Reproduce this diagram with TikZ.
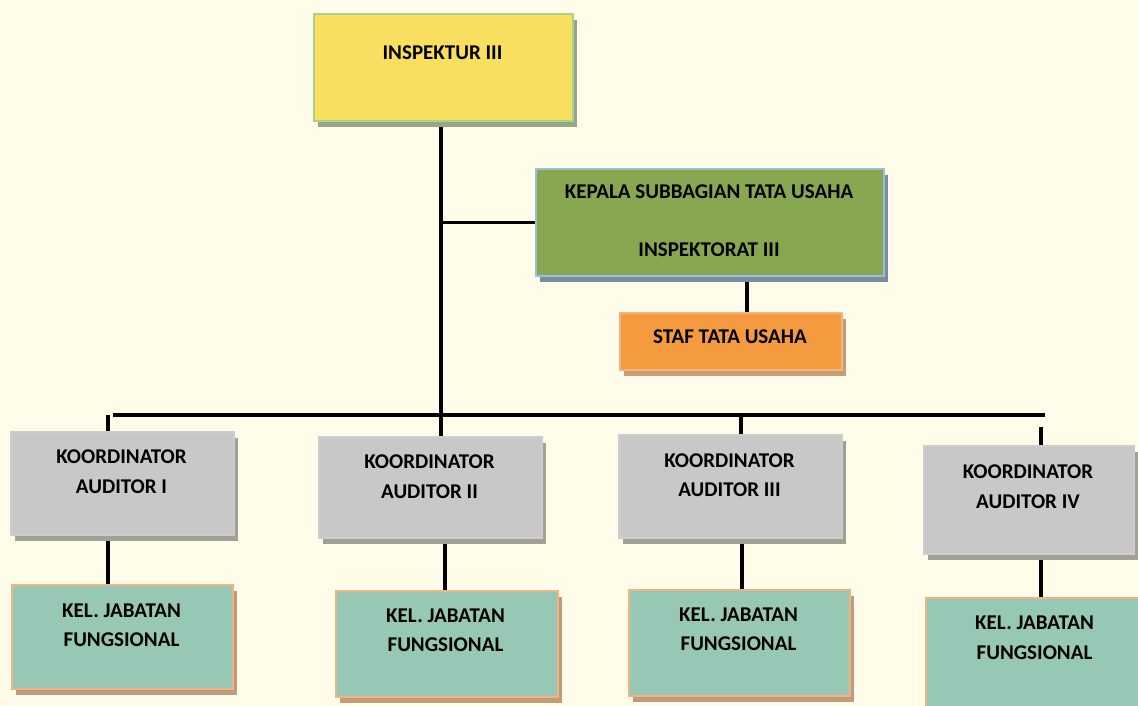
\documentclass[tikz,border=0pt]{standalone}
\usepackage{fontspec}
\setmainfont{Carlito}
\usetikzlibrary{shadows,calc}
\definecolor{bgc}{RGB}{255,252,233}
\definecolor{yfill}{RGB}{248,223,95}
\definecolor{ydraw}{RGB}{169,208,142}
\definecolor{yshad}{RGB}{152,166,132}
\definecolor{gfill}{RGB}{135,168,81}
\definecolor{gdraw}{RGB}{155,190,220}
\definecolor{gshad}{RGB}{122,140,160}
\definecolor{ofill}{RGB}{243,155,62}
\definecolor{odraw}{RGB}{245,178,130}
\definecolor{oshad}{RGB}{196,158,118}
\definecolor{kfill}{RGB}{200,200,200}
\definecolor{kdraw}{RGB}{205,205,205}
\definecolor{kshad}{RGB}{160,160,148}
\definecolor{tfill}{RGB}{151,200,181}
\definecolor{tdraw}{RGB}{244,177,131}
\definecolor{tshad}{RGB}{190,156,124}
\pgfdeclarelayer{background}
\pgfsetlayers{background,main}
\begin{document}
\begin{tikzpicture}[x=1pt,y=-1pt,
  box/.style={line width=2pt, inner sep=0pt, anchor=north west},
  sh/.style={drop shadow={shadow xshift=4pt, shadow yshift=-6pt, fill=#1, opacity=1}},
  ybox/.style={box, fill=yfill, draw=ydraw, sh=yshad},
  gbox/.style={box, fill=gfill, draw=gdraw, sh=gshad},
  obox/.style={box, fill=ofill, draw=odraw, sh=oshad},
  kbox/.style={box, fill=kfill, draw=kdraw, sh=kshad},
  tbox/.style={box, fill=tfill, draw=tdraw, sh=tshad},
  txt/.style={font=\fontsize{21}{29.5}\selectfont\bfseries, align=center, inner sep=0pt, anchor=north, text=black},
  conn/.style={line width=3.6pt, draw=black}
]
\useasboundingbox (0,0) rectangle (1138,706);
\begin{pgfonlayer}{background}
\fill[bgc] (0,0) rectangle (1138,706);
\end{pgfonlayer}

% boxes
\node[ybox, minimum width=259pt, minimum height=107pt] (insp) at (313,13) {};
\node[gbox, minimum width=348pt, minimum height=107pt] (kep) at (535,168) {};
\node[obox, minimum width=222pt, minimum height=57pt] (staf) at (619,312) {};
\node[kbox, minimum width=223pt, minimum height=103pt] (k1) at (10,431) {};
\node[kbox, minimum width=223pt, minimum height=101pt] (k2) at (318,436) {};
\node[kbox, minimum width=223pt, minimum height=103pt] (k3) at (618,434) {};
\node[kbox, minimum width=210pt, minimum height=108pt] (k4) at (923,445) {};
\node[tbox, minimum width=221pt, minimum height=104pt] (g1) at (11,584) {};
\node[tbox, minimum width=222pt, minimum height=106pt] (g2) at (335,590) {};
\node[tbox, minimum width=221pt, minimum height=106pt] (g3) at (628,589) {};
\node[tbox, minimum width=219pt, minimum height=115pt] (g4) at (925,597) {};

% texts
\node[txt] (tinsp) at (442.5,46) {INSPEKTUR III};
\node[txt] (tkep) at (709,185) {KEPALA SUBBAGIAN TATA USAHA\\[27.8pt]INSPEKTORAT III};
\node[txt] (tstaf) at (730,329.3) {STAF TATA USAHA};
\node[txt] (tk1) at (121.5,450) {KOORDINATOR\\AUDITOR I};
\node[txt] (tk2) at (429.5,455) {KOORDINATOR\\AUDITOR II};
\node[txt] (tk3) at (729.5,453.3) {KOORDINATOR\\AUDITOR III};
\node[txt] (tk4) at (1028,465) {KOORDINATOR\\AUDITOR IV};
\node[txt] (tg1) at (121.5,603.3) {KEL. JABATAN\\FUNGSIONAL};
\node[txt] (tg2) at (445.5,608.3) {KEL. JABATAN\\FUNGSIONAL};
\node[txt] (tg3) at (738.5,607.3) {KEL. JABATAN\\FUNGSIONAL};
\node[txt] (tg4) at (1034.5,616) {KEL. JABATAN\\FUNGSIONAL};

% connector coordinates
\coordinate (mx) at (441,0);
\coordinate (sx) at (747,0);
\coordinate (busL) at (113,415);
\coordinate (busR) at (1045,415);
\coordinate (x1) at (108,415);
\coordinate (x3) at (741,415);
\coordinate (x4) at (1041,427);
\coordinate (y2) at (445,0);
\coordinate (y3) at (742,0);

\begin{pgfonlayer}{background}
\draw[conn] (insp.south -| mx) -- (k2.north -| mx);
\draw[conn] (kep.west) -- (kep.west -| mx);
\draw[conn] (kep.south -| sx) -- (staf.north -| sx);
\draw[conn] (busL) -- (busR);
\draw[conn] (x1) -- (x1 |- k1.north);
\draw[conn] (x3) -- (x3 |- k3.north);
\draw[conn] (x4) -- (x4 |- k4.north);
\draw[conn] (k1.south -| x1) -- (g1.north -| x1);
\draw[conn] (k2.south -| y2) -- (g2.north -| y2);
\draw[conn] (k3.south -| y3) -- (g3.north -| y3);
\draw[conn] (k4.south -| x4) -- (g4.north -| x4);
\end{pgfonlayer}
\end{tikzpicture}
\end{document}
